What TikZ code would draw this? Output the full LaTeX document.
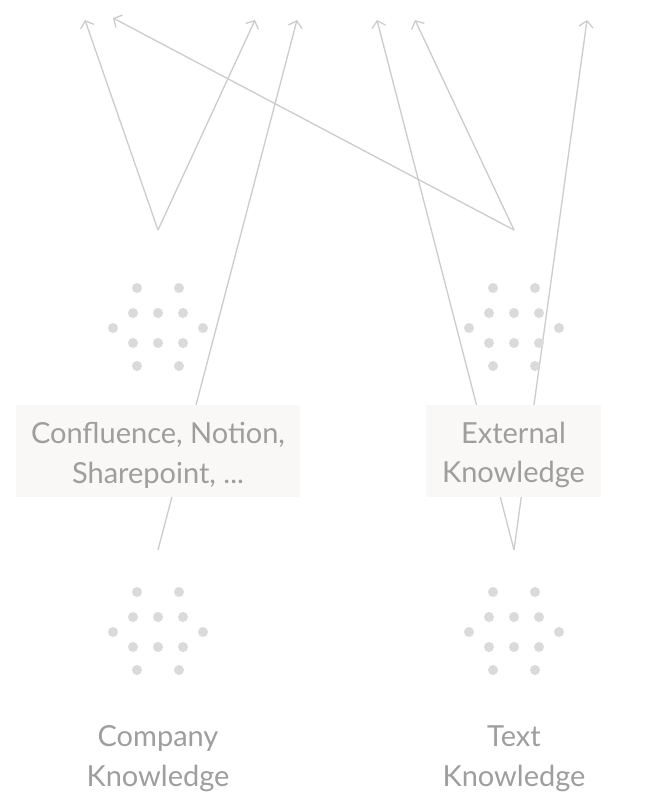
\documentclass[tikz,border=0pt]{standalone}
\usepackage{fontspec}
\setmainfont{Lato}
\usetikzlibrary{arrows.meta,positioning,calc}
\definecolor{edgegray}{RGB}{204,204,204}
\definecolor{dotgray}{RGB}{218,218,218}
\definecolor{textgray}{RGB}{158,158,158}
\definecolor{boxfill}{RGB}{249,248,246}
\newcommand{\labelfont}{\fontsize{16.5}{22.7}\selectfont}
% one cluster of dots around a centre
\newcommand{\dotcluster}[2]{%
  \foreach \dx/\dy in {-21/-39,21/-39,-25/-14,0/-14,25/-14,-45/1,45/1,-25/16,0/16,25/16,-21/39,21/39}{
    \fill[dotgray] (#1+\dx,#2+\dy) circle (1mm);}}

\begin{document}
\begin{tikzpicture}[x=0.02cm,y=-0.02cm,
    link/.style={draw=edgegray,line width=0.75pt,-{Straight Barb[length=3.5pt,width=8pt]}},
    srcbox/.style={fill=boxfill,minimum height=1.84cm,inner sep=0pt},
    caption/.style={text=textgray,align=center,font=\labelfont}]
  \useasboundingbox (0,0) rectangle (670,802);
  % points where the arrows fan out
  \coordinate (companyhub) at (158,230);
  \coordinate (externalhub) at (514,230);
  \coordinate (companysrc) at (158,550);
  \coordinate (textsrc) at (514,550);
  % arrow ends along the top
  \foreach \tip/\x/\y in {a/85/20,b/113/18,c/255/20,d/297/20,e/377/20,f/415/20,g/587/20}{
    \coordinate (top\tip) at (\x,\y);}
  \draw[link] (companyhub) -- (topa);
  \draw[link] (companyhub) -- (topc);
  \draw[link] (externalhub) -- (topb);
  \draw[link] (externalhub) -- (topf);
  \draw[link] (companysrc) -- (topd);
  \draw[link] (textsrc) -- (tope);
  \draw[link] (textsrc) -- (topg);
  % dot clusters
  \dotcluster{158}{327}
  \dotcluster{514}{327}
  \dotcluster{158}{631}
  \dotcluster{514}{631}
  % source boxes sit on top of the lines
  \node[srcbox,minimum width=5.68cm] (companybox) at (158,451) {};
  \node[srcbox,minimum width=3.5cm] (externalbox) at (513.5,451) {};
  \node[caption] (companytext) at (158,455) {Confluence, Notion,\\Sharepoint, ...};
  \node[caption] (externaltext) at (513.5,455) {External\\Knowledge};
  \node[caption] (companylabel) at (158,759) {Company\\Knowledge};
  \node[caption] (textlabel) at (514,759) {Text\\Knowledge};
\end{tikzpicture}
\end{document}
